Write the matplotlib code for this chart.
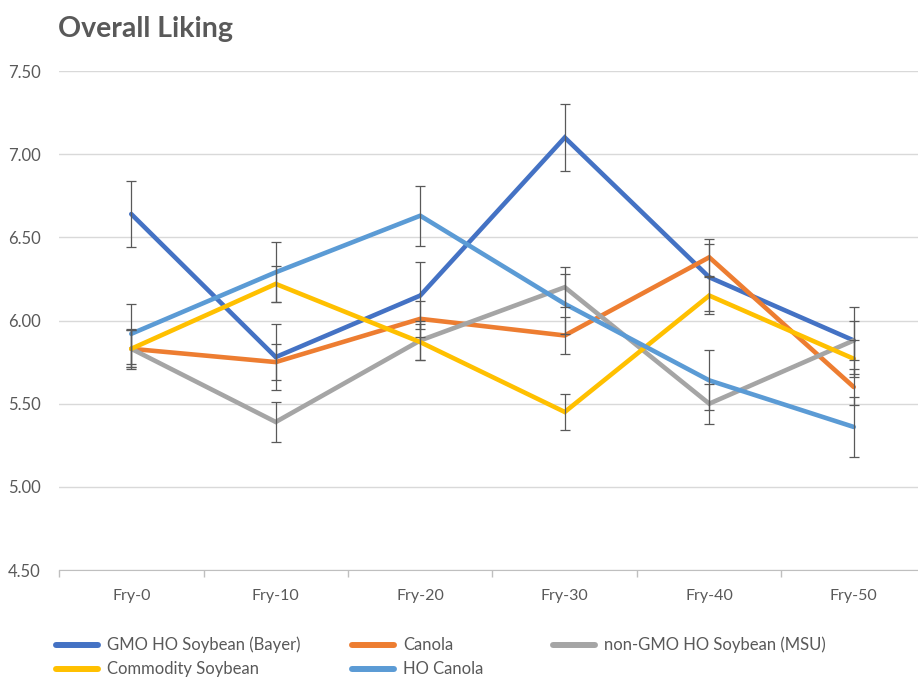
import matplotlib
matplotlib.use('Agg')

import matplotlib.pyplot as plt
from matplotlib.lines import Line2D
import numpy as np

plt.rcParams['font.family'] = ['Lato', 'DejaVu Sans']

# Data
categories = ['Fry-0', 'Fry-10', 'Fry-20', 'Fry-30', 'Fry-40', 'Fry-50']
series_names = ['GMO HO Soybean (Bayer)', 'Canola', 'non-GMO HO Soybean (MSU)',
                'Commodity Soybean', 'HO Canola']
gmo_bayer = [6.64, 5.78, 6.15, 7.10, 6.26, 5.88]
canola = [5.83, 5.75, 6.01, 5.91, 6.38, 5.60]
non_gmo_msu = [5.83, 5.39, 5.88, 6.20, 5.50, 5.88]
commodity = [5.83, 6.22, 5.87, 5.45, 6.15, 5.77]
ho_canola = [5.92, 6.29, 6.63, 6.10, 5.64, 5.36]
err_gmo_bayer = [0.20, 0.20, 0.20, 0.20, 0.20, 0.20]
err_canola = [0.11, 0.11, 0.11, 0.11, 0.11, 0.11]
err_non_gmo_msu = [0.12, 0.12, 0.12, 0.12, 0.12, 0.12]
err_commodity = [0.11, 0.11, 0.11, 0.11, 0.11, 0.11]
err_ho_canola = [0.18, 0.18, 0.18, 0.18, 0.18, 0.18]
y_ticks = [4.5, 5.0, 5.5, 6.0, 6.5, 7.0, 7.5]

colors = ['#4472C4', '#ED7D31', '#A5A5A5', '#FFC000', '#5B9BD5']
values = [gmo_bayer, canola, non_gmo_msu, commodity, ho_canola]
errors = [err_gmo_bayer, err_canola, err_non_gmo_msu, err_commodity, err_ho_canola]

W, H = 918, 683
fig = plt.figure(figsize=(W / 100, H / 100), dpi=100)
ax = fig.add_axes([59 / W, 1 - 570 / H, 867 / W, 499 / H])

x = np.arange(len(categories))
for name, vals, errs, col in zip(series_names, values, errors, colors):
    ax.plot(x, vals, color=col, lw=3.3, solid_capstyle='round',
            solid_joinstyle='miter', label=name, zorder=3)
    ax.errorbar(x, vals, yerr=errs, fmt='none', ecolor='#595959',
                elinewidth=0.9, capsize=3.6, capthick=0.9, zorder=4)

ax.set_xlim(-0.5, len(categories) - 0.5)
ax.set_ylim(4.5, 7.5)
ax.set_yticks(y_ticks)
ax.set_yticklabels(['%.2f' % v for v in y_ticks])
ax.set_xticks(x)
ax.set_xticklabels(categories)
ax.set_xticks(np.arange(len(categories) + 1) - 0.5, minor=True)
ax.tick_params(axis='x', which='major', length=0, pad=14, labelsize=11.5,
               labelcolor='#595959')
ax.tick_params(axis='x', which='minor', length=5, color='#BFBFBF', width=1)
ax.tick_params(axis='y', length=0, pad=13, labelsize=12, labelcolor='#595959')
ax.grid(axis='y', color='#D9D9D9', lw=1)
ax.set_axisbelow(True)
for side in ['top', 'right', 'left']:
    ax.spines[side].set_visible(False)
ax.spines['bottom'].set_color('#BFBFBF')
ax.spines['bottom'].set_zorder(0)

fig.text(58 / W, 1 - 37.5 / H, 'Overall Liking', fontsize=20.5, fontweight='bold',
         color='#595959', ha='left', va='baseline')

# Legend laid out like the Excel one: two rows, fixed column starts
col_x = [56, 352, 553]
row_y = [645, 669]
for i, (name, col) in enumerate(zip(series_names, colors)):
    cx = col_x[i % 3]
    cy = row_y[i // 3]
    fig.add_artist(Line2D([cx / W, (cx + 42) / W], [1 - cy / H, 1 - cy / H],
                          color=col, lw=4.3, solid_capstyle='round'))
    fig.text((cx + 51) / W, 1 - cy / H, name, fontsize=12, color='#595959',
             ha='left', va='center')

fig.savefig('out.png', dpi=100)
